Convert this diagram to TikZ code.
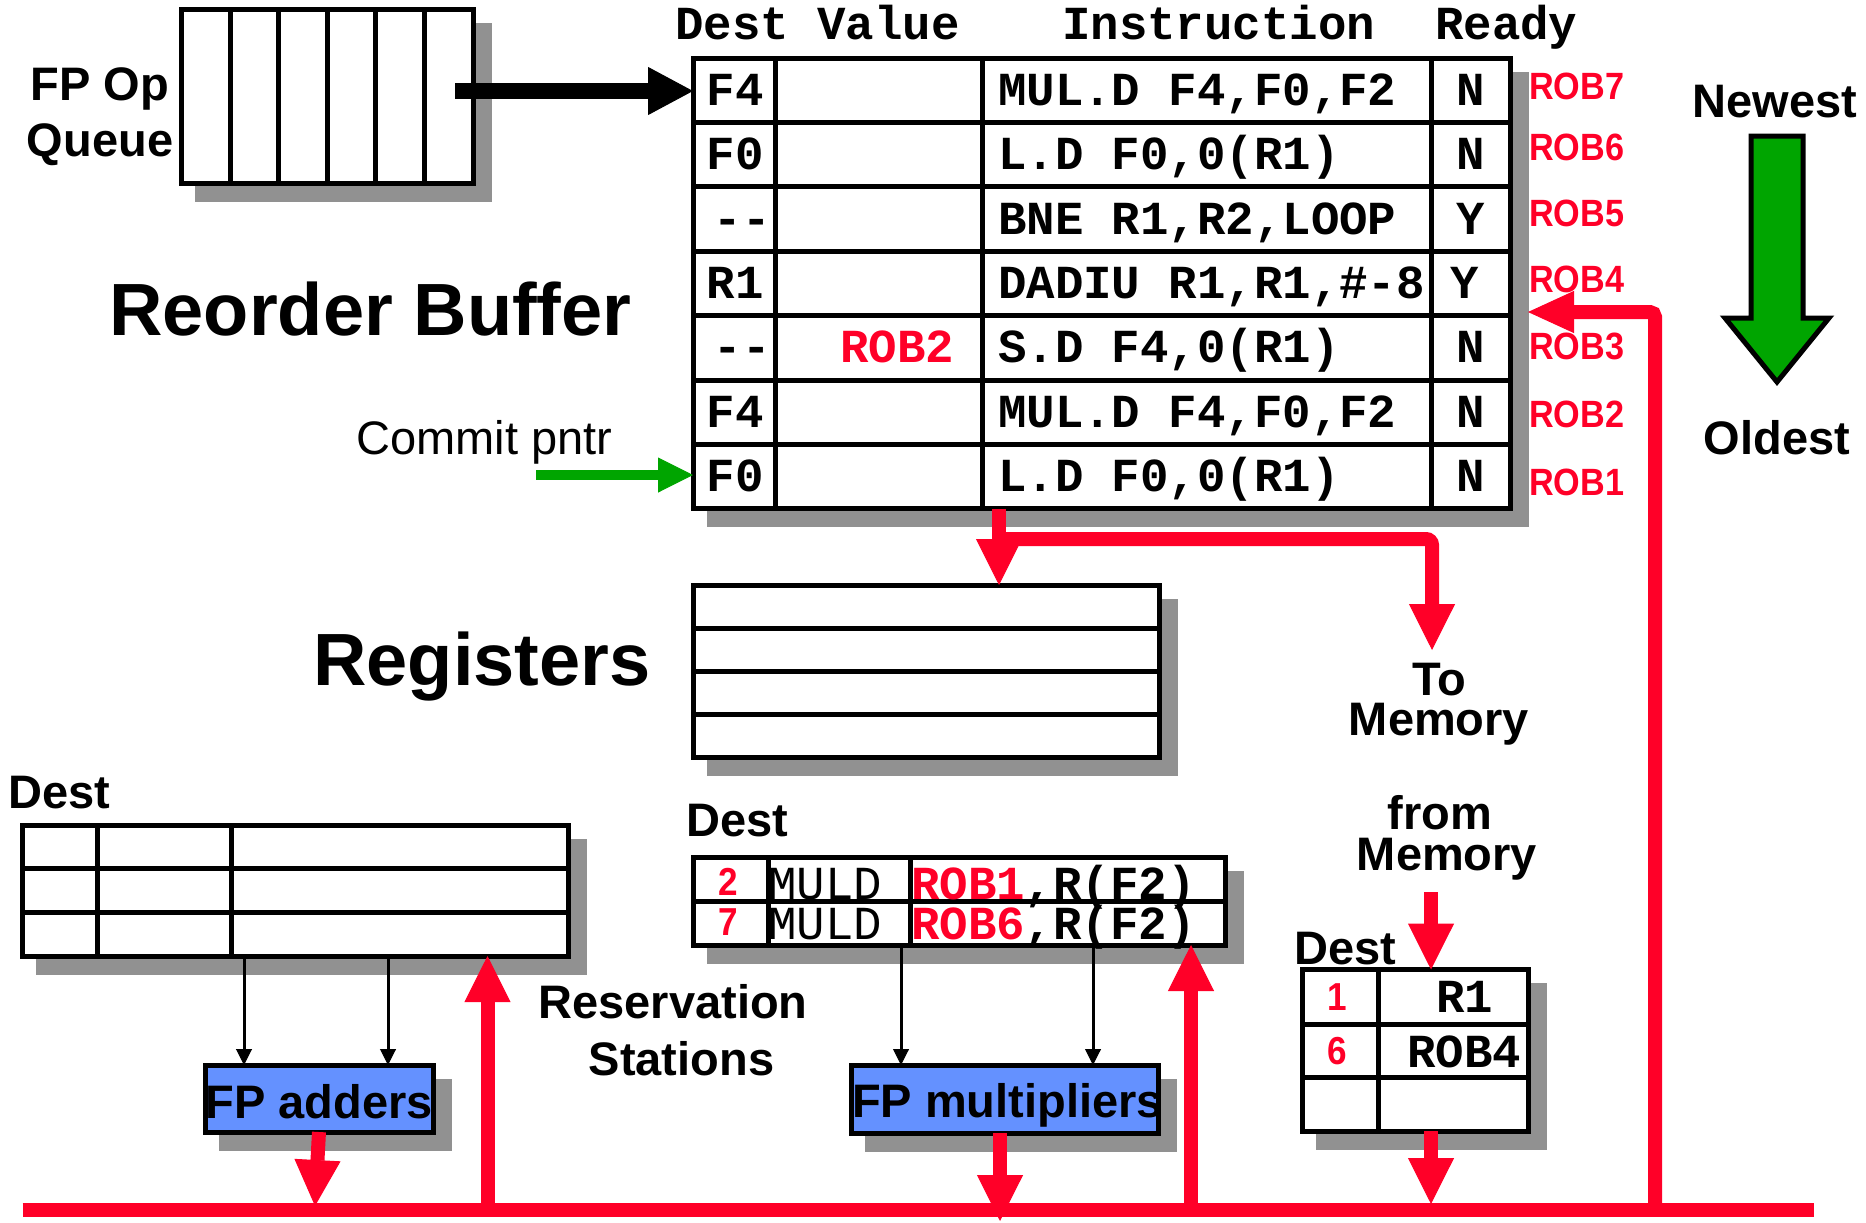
\documentclass[tikz,border=0pt]{standalone}
\usepackage{fontspec}
\setmainfont{Liberation Sans}
\newfontfamily\monof{Liberation Mono}
\newfontfamily\narrowf[FakeStretch=0.9]{Liberation Sans}
\usetikzlibrary{arrows.meta,backgrounds,calc}
\definecolor{rd}{RGB}{255,0,40}
\definecolor{grn}{RGB}{0,165,0}
\definecolor{shd}{RGB}{145,145,145}
\definecolor{blu}{RGB}{100,145,255}
\newcommand\fsz[1]{\fontsize{#1bp}{#1bp}\selectfont}
\newcommand\dd{\mbox{-}\mbox{-}}
\begin{document}
\begin{tikzpicture}[x=1bp,y=-1bp,
  box/.style={draw=black, line width=5bp, fill=white, inner sep=0pt, outer sep=0pt},
  lbl/.style={inner sep=0pt, anchor=base, font=\bfseries\fsz{47}},
  big/.style={inner sep=0pt, anchor=base, font=\bfseries\fsz{74}},
  mt/.style={inner sep=0pt, anchor=base, font=\monof\bfseries\fsz{47.4}},
  mtw/.style={mt, anchor=base west},
  robl/.style={inner sep=0pt, anchor=base west, font=\narrowf\bfseries\fsz{38}, text=rd},
  dig/.style={inner sep=0pt, anchor=base, font=\narrowf\bfseries\fsz{39}, text=rd},
  gridl/.style={line width=5bp},
  redw/.style={draw=rd, line width=14bp},
  redarr/.style={redw, -{Triangle[length=46bp,width=46bp,line width=1bp]}},
  blkarr/.style={draw=black, line width=3bp, -{Triangle[length=16bp,width=16bp,line width=1bp]}},
]
\useasboundingbox (0,0) rectangle (1866,1222);

% ---------- boxes ----------
\node[box, minimum width=291.5bp, minimum height=173.3bp] (queue) at (327.25,96.35) {};
\node[box, minimum width=817bp, minimum height=450.8bp] (rob) at (1101.5,283.4) {};
\node[box, minimum width=466bp, minimum height=172bp] (regs) at (926,671) {};
\node[box, minimum width=545.4bp, minimum height=131bp] (addrs) at (295.3,890.5) {};
\node[box, minimum width=532bp, minimum height=88bp] (mulrs) at (959,901) {};
\node[box, minimum width=226bp, minimum height=161.5bp] (ldbuf) at (1415,1050.25) {};
\node[box, fill=blu, minimum width=228bp, minimum height=67bp] (fpadd) at (319,1098.5) {};
\node[box, fill=blu, minimum width=307bp, minimum height=68bp] (fpmul) at (1004.5,1099) {};

% shadows
\begin{scope}[on background layer]
\foreach \n in {queue,rob,regs,addrs,mulrs,ldbuf,fpadd,fpmul}
  \fill[shd] ($(\n.north west)+(13.5,13.5)$) rectangle ($(\n.south east)+(18.5,18.5)$);
\end{scope}

% ---------- grid lines ----------
\foreach \x in {230.1,278.7,327.3,375.9,424.5}
  \draw[gridl] (\x,9.7) -- (\x,183);
\foreach \k in {1,...,6}
  \draw[gridl] (693,58+64.4*\k) -- (1510,58+64.4*\k);
\foreach \x in {775,982,1431}
  \draw[gridl] (\x,58) -- (\x,508.8);
\foreach \y in {628,671,714}
  \draw[gridl] (693,\y) -- (1159,\y);
\foreach \y in {868.7,912.3}
  \draw[gridl] (22.6,\y) -- (568,\y);
\foreach \x in {97,231}
  \draw[gridl] (\x,825) -- (\x,956);
\draw[gridl] (693,901) -- (1225,901);
\foreach \x in {768,910}
  \draw[gridl] (\x,857) -- (\x,945);
\foreach \y in {1024,1077.5}
  \draw[gridl] (1302,\y) -- (1528,\y);
\draw[gridl] (1378,969.5) -- (1378,1131);

% ---------- header ----------
\node[mtw] (hdv) at (675,39) {Dest Value};
\node[mtw] (hin) at (1062,39) {Instruction};
\node[mtw] (hre) at (1435,39) {Ready};

% ---------- ROB rows ----------
\node[mt] (d1) at (735,105.2) {F4};
\node[mt] (d2) at (735,169.6) {F0};
\node[mt] (d3) at (742,234) {\dd};
\node[mt] (d4) at (735,298.4) {R1};
\node[mt] (d5) at (742,362.8) {\dd};
\node[mt] (d6) at (735,427.2) {F4};
\node[mt] (d7) at (735,491.6) {F0};
\node[mt, text=rd] (v5) at (897,362.8) {ROB2};
\node[mtw] (i1) at (998,105.2) {MUL.D F4,F0,F2};
\node[mtw] (i2) at (998,169.6) {L.D F0,0(R1)};
\node[mtw] (i3) at (998,234) {BNE R1,R2,LOOP};
\node[mtw] (i4) at (998,298.4) {DADIU R1,R1,\#-8};
\node[mtw] (i5) at (998,362.8) {S.D F4,0(R1)};
\node[mtw] (i6) at (998,427.2) {MUL.D F4,F0,F2};
\node[mtw] (i7) at (998,491.6) {L.D F0,0(R1)};
\node[mt] (r1) at (1471,105.2) {N};
\node[mt] (r2) at (1471,169.6) {N};
\node[mt] (r3) at (1471,234) {Y};
\node[mt] (r4) at (1464.5,298.4) {Y};
\node[mt] (r5) at (1471,362.8) {N};
\node[mt] (r6) at (1471,427.2) {N};
\node[mt] (r7) at (1471,491.6) {N};
\node[robl] (l7) at (1529,99.7) {ROB7};
\node[robl] (l6) at (1529,160) {ROB6};
\node[robl] (l5) at (1529,226.4) {ROB5};
\node[robl] (l4) at (1529,292.6) {ROB4};
\node[robl] (l3) at (1529,359) {ROB3};
\node[robl] (l2) at (1529,427) {ROB2};
\node[robl] (l1) at (1529,495) {ROB1};

% ---------- mult reservation stations ----------
\node[dig] (m1n) at (728,895) {2};
\node[dig] (m2n) at (728,935) {7};
\node[mtw, font=\monof\fsz{47.4}] (m1o) at (768,899) {MULD};
\node[mtw, font=\monof\fsz{47.4}] (m2o) at (768,939) {MULD};
\node[mtw] (m1a) at (911,899) {\textcolor{rd}{ROB1},R(F2)};
\node[mtw] (m2a) at (911,939) {\textcolor{rd}{ROB6},R(F2)};

% ---------- load buffer ----------
\node[dig] (b1n) at (1337,1010) {1};
\node[dig] (b2n) at (1337,1064) {6};
\node[mt] (b1v) at (1464.5,1012) {R1};
\node[mt] (b2v) at (1464,1067) {ROB4};

% ---------- labels ----------
\node[lbl] (fpop) at (100,100) {FP Op};
\node[lbl] (queuet) at (100,156) {Queue};
\node[big] (robt) at (370.5,335) {Reorder Buffer};
\node[big] (regt) at (482,685) {Registers};
\node[inner sep=0pt, anchor=base, font=\fsz{47}] (cpt) at (484.5,454) {Commit pntr};
\node[lbl] (newest) at (1775,117) {Newest};
\node[lbl] (oldest) at (1777,454) {Oldest};
\node[lbl] (dest1) at (59.5,808) {Dest};
\node[lbl] (dest2) at (737,836) {Dest};
\node[lbl] (dest3) at (1345,964) {Dest};
\node[lbl] (res1) at (673,1018) {Reservation};
\node[lbl] (res2) at (681.5,1075) {Stations};
\node[lbl] (to1) at (1439,695) {To};
\node[lbl] (to2) at (1439,735) {Memory};
\node[lbl] (fr1) at (1440,829) {from};
\node[lbl] (fr2) at (1447,870) {Memory};
\node[lbl] (fpaddt) at (319,1118) {FP adders};
\node[lbl] (fpmult) at (1007.5,1117) {FP multipliers};

% ---------- big green arrow ----------
\draw[line width=5bp, fill=grn, line join=miter] (1751,136) -- (1803,136) -- (1803,318) -- (1829,318) -- (1777,382) -- (1725,318) -- (1751,318) -- cycle;

% ---------- connectors ----------
\coordinate (qa) at (455,91);
\draw[line width=15.6bp, -{Triangle[length=45bp,width=48bp,line width=1bp]}] (qa) -- (rob.west |- qa);
\coordinate (cp) at (536,475);
\draw[draw=grn, line width=10bp, -{Triangle[length=35bp,width=35bp,line width=1bp]}] (cp) -- (rob.west |- cp);

\coordinate (k1) at (244,0);
\coordinate (k2) at (388,0);
\coordinate (k3) at (901,0);
\coordinate (k4) at (1093,0);
\draw[blkarr] (addrs.south -| k1) -- (fpadd.north -| k1);
\draw[blkarr] (addrs.south -| k2) -- (fpadd.north -| k2);
\draw[blkarr] (mulrs.south -| k3) -- (fpmul.north -| k3);
\draw[blkarr] (mulrs.south -| k4) -- (fpmul.north -| k4);

\coordinate (j1) at (999,539);
\coordinate (tm) at (1432,650);
\draw[redw] (rob.south -| j1) -- (j1);
\draw[redarr] (j1) -- (regs.north -| j1);
\draw[redarr, rounded corners=6bp] (j1) -- (j1 -| tm) -- (tm);

\coordinate (busL) at (22.6,1210);
\coordinate (busR) at (1814,1210);
\draw[redw] (busL) -- (busR);
\coordinate (rc) at (1655,312);
\coordinate (r3t) at (1528,312);
\draw[redw, rounded corners=5bp, -{Triangle[length=46bp,width=42bp,line width=1bp]}] (busR -| rc) -- (rc) -- (r3t);

\coordinate (u1) at (487.5,1210);
\coordinate (u2) at (1191,1210);
\draw[redarr] (u1) -- (addrs.south -| u1);
\draw[redarr] (u2) -- (mulrs.south -| u2);

\coordinate (d1t) at (315,1206);
\draw[redarr] (fpadd.south) -- (d1t);
\coordinate (d2t) at (1000,1221);
\draw[redarr] (fpmul.south -| d2t) -- (d2t);
\coordinate (d3t) at (1431,1204);
\draw[redarr] (ldbuf.south -| d3t) -- (d3t);
\coordinate (fm) at (1431,892);
\draw[redarr] (fm) -- (ldbuf.north -| fm);
\end{tikzpicture}
\end{document}
